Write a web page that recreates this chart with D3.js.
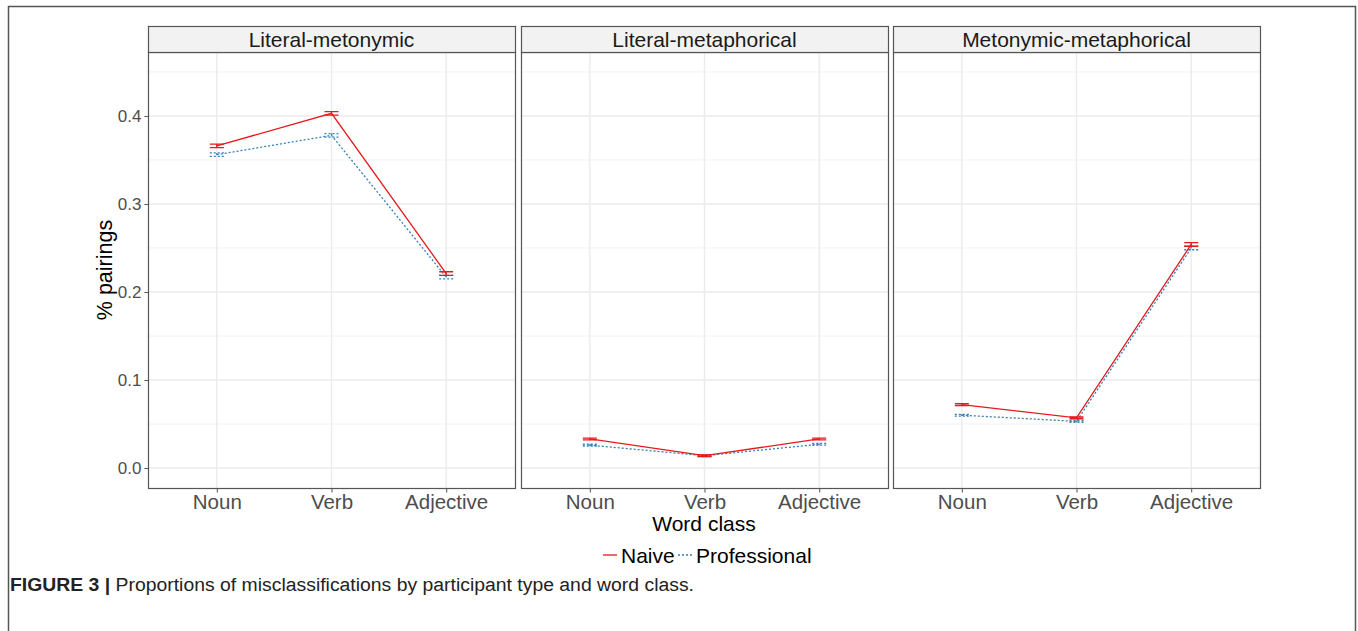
<!DOCTYPE html>
<html>
<head>
<meta charset="utf-8">
<script src="https://cdn.jsdelivr.net/npm/d3@7/dist/d3.min.js"></script>
<style>
  body { margin: 0; background: #fff; }
  text { font-family: "Liberation Sans", Arial, sans-serif; }
</style>
</head>
<body>
<div class="chart"></div>
<script>
// values
var panels = ["Literal-metonymic", "Literal-metaphorical", "Metonymic-metaphorical"];
var wordClasses = ["Noun", "Verb", "Adjective"];
var groups = ["Naive", "Professional"];
var naive = [
  [0.366, 0.403, 0.221],
  [0.033, 0.014, 0.033],
  [0.072, 0.057, 0.254]
];
var professional = [
  [0.356, 0.378, 0.217],
  [0.026, 0.014, 0.027],
  [0.060, 0.053, 0.250]
];
var errNaive = [
  [0.002, 0.002, 0.002],
  [0.001, 0.001, 0.001],
  [0.001, 0.001, 0.002]
];
var errProf = [
  [0.002, 0.002, 0.002],
  [0.001, 0.001, 0.001],
  [0.001, 0.001, 0.002]
];
var yTicks = [0.0, 0.1, 0.2, 0.3, 0.4];

var width = 1358, height = 631;
var panelLefts = [148, 521, 893], panelW = 367;
var stripTop = 26, plotTop = 52, plotBottom = 488;

var svg = d3.select(".chart").append("svg")
    .attr("width", width)
    .attr("height", height);

// figure frame
svg.append("path")
    .attr("d", "M8.5,631 V6.5 H1355.5 V631")
    .attr("fill", "none")
    .attr("stroke", "#555")
    .attr("stroke-width", 1.5);

var y = d3.scaleLinear().domain([-0.0227, 0.4727]).range([plotBottom, plotTop]);

var colors = {Naive: "#e41a1c", Professional: "#377eb8"};

panels.forEach(function(name, p) {
  var x = d3.scalePoint().domain(wordClasses)
      .range([panelLefts[p], panelLefts[p] + panelW]).padding(0.6);
  var g = svg.append("g");

  // grid
  var minor = d3.range(0.05, 0.46, 0.1);
  g.selectAll(".minor").data(minor).enter().append("line")
      .attr("x1", panelLefts[p]).attr("x2", panelLefts[p] + panelW)
      .attr("y1", function(d) { return y(d); }).attr("y2", function(d) { return y(d); })
      .attr("stroke", "#f2f2f2").attr("stroke-width", 1);
  g.selectAll(".major").data(yTicks).enter().append("line")
      .attr("x1", panelLefts[p]).attr("x2", panelLefts[p] + panelW)
      .attr("y1", function(d) { return y(d); }).attr("y2", function(d) { return y(d); })
      .attr("stroke", "#ebebeb").attr("stroke-width", 1.4);
  g.selectAll(".vgrid").data(wordClasses).enter().append("line")
      .attr("x1", function(d) { return x(d); }).attr("x2", function(d) { return x(d); })
      .attr("y1", plotTop).attr("y2", plotBottom)
      .attr("stroke", "#ebebeb").attr("stroke-width", 1.4);

  // series
  var series = [
    {name: "Naive", vals: naive[p], err: errNaive[p], dash: null},
    {name: "Professional", vals: professional[p], err: errProf[p], dash: "2,2"}
  ];
  series.slice().reverse().forEach(function(s) {
    var pts = wordClasses.map(function(w, i) { return {w: w, v: s.vals[i], e: s.err[i]}; });
    var line = d3.line().x(function(d) { return x(d.w); }).y(function(d) { return y(d.v); });
    g.append("path").datum(pts)
        .attr("d", line)
        .attr("fill", "none")
        .attr("stroke", colors[s.name])
        .attr("stroke-width", 1.3)
        .attr("stroke-dasharray", s.dash);
    g.selectAll(null).data(pts).enter().append("path")
        .attr("d", function(d) {
          var cx = x(d.w), y0 = y(d.v - d.e), y1 = y(d.v + d.e);
          return "M" + (cx - 7) + "," + y1 + "H" + (cx + 7) +
                 "M" + cx + "," + y1 + "V" + y0 +
                 "M" + (cx - 7) + "," + y0 + "H" + (cx + 7);
        })
        .attr("fill", "none")
        .attr("stroke", colors[s.name])
        .attr("stroke-width", 1.3)
        .attr("stroke-dasharray", s.dash);
  });

  // panel border
  g.append("rect")
      .attr("x", panelLefts[p] + 0.5).attr("y", plotTop + 0.5)
      .attr("width", panelW).attr("height", plotBottom - plotTop)
      .attr("fill", "none").attr("stroke", "#555").attr("stroke-width", 1.2);

  // strip
  g.append("rect")
      .attr("x", panelLefts[p] + 0.5).attr("y", stripTop + 0.5)
      .attr("width", panelW).attr("height", plotTop - stripTop)
      .attr("fill", "#f2f2f2").attr("stroke", "#555").attr("stroke-width", 1.2);
  g.append("text")
      .attr("x", panelLefts[p] + panelW / 2).attr("y", stripTop + 20.5)
      .attr("text-anchor", "middle")
      .attr("font-size", 21).attr("fill", "#1a1a1a")
      .text(name);

  // x axis
  var xa = g.append("g")
      .attr("transform", "translate(0," + (plotBottom + 0.5) + ")")
      .call(d3.axisBottom(x).tickSize(4).tickPadding(1.5));
  xa.select(".domain").remove();
  xa.selectAll("line").attr("stroke", "#555");
  xa.selectAll("text").attr("font-size", 20.5).attr("fill", "#4d4d4d")
      .attr("font-family", "Liberation Sans, Arial, sans-serif");
});

// y axis
var ya = svg.append("g")
    .attr("transform", "translate(" + (panelLefts[0] + 0.5) + ",0)")
    .call(d3.axisLeft(y).tickValues(yTicks).tickFormat(d3.format(".1f")).tickSize(4).tickPadding(3));
ya.select(".domain").remove();
ya.selectAll("line").attr("stroke", "#555");
ya.selectAll("text").attr("font-size", 17).attr("fill", "#4d4d4d")
    .attr("font-family", "Liberation Sans, Arial, sans-serif");

// axis titles
svg.append("text")
    .attr("transform", "translate(112,270) rotate(-90)")
    .attr("text-anchor", "middle")
    .attr("font-size", 21.5).attr("fill", "#000")
    .text("% pairings");
svg.append("text")
    .attr("x", 704).attr("y", 531)
    .attr("text-anchor", "middle")
    .attr("font-size", 21).attr("fill", "#000")
    .text("Word class");

// legend
var legend = svg.append("g").attr("transform", "translate(603,555)");
var legX = [0, 75];
groups.forEach(function(gname, i) {
  legend.append("line")
      .attr("x1", legX[i]).attr("x2", legX[i] + 14)
      .attr("y1", 0).attr("y2", 0)
      .attr("stroke", colors[gname]).attr("stroke-width", 1.3)
      .attr("stroke-dasharray", i === 1 ? "2,2" : null);
  legend.append("text")
      .attr("x", legX[i] + 18).attr("y", 7.5)
      .attr("font-size", 21).attr("fill", "#000")
      .text(gname);
});

// caption
var cap = svg.append("text").attr("x", 10).attr("y", 591)
    .attr("font-size", 18).attr("fill", "#222")
    .attr("textLength", 684).attr("lengthAdjust", "spacingAndGlyphs");
cap.append("tspan").attr("font-weight", "bold").text("FIGURE 3 | ");
cap.append("tspan").text("Proportions of misclassifications by participant type and word class.");
</script>
</body>
</html>
